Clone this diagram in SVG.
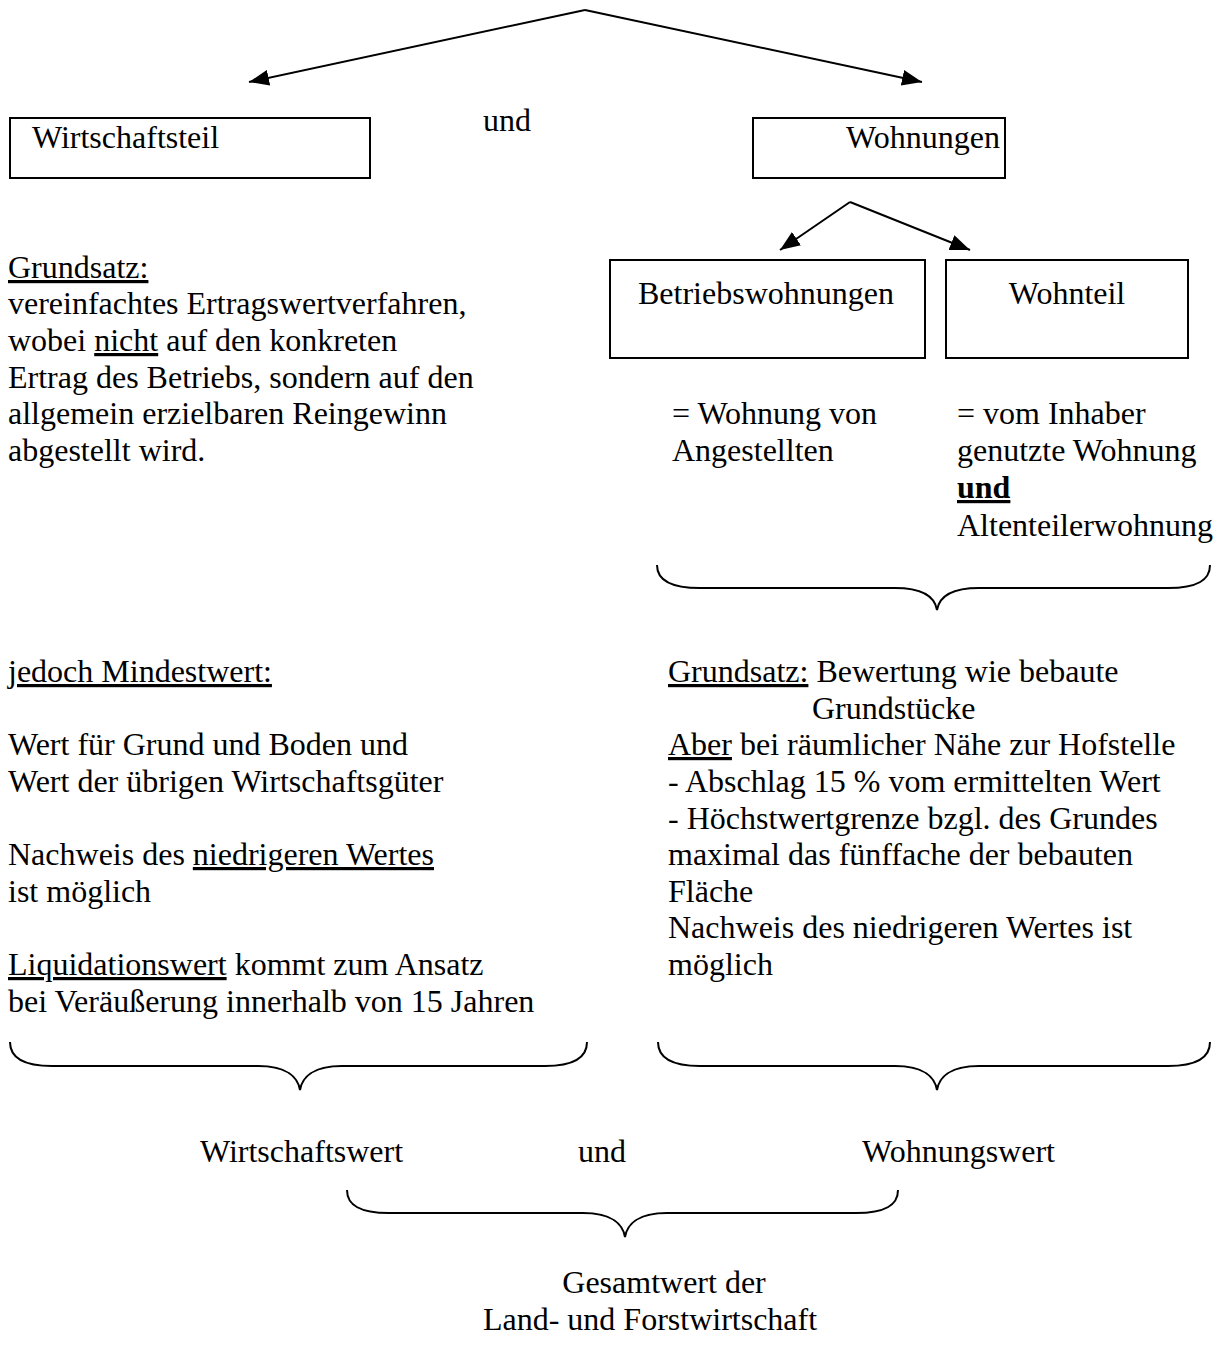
<svg xmlns="http://www.w3.org/2000/svg" width="1220" height="1348" viewBox="0 0 1220 1348" font-family="'Liberation Serif', 'Times New Roman', serif">
<style>
text{font-family:"Liberation Serif","Times New Roman",serif;font-size:32px;fill:#000}
.box{fill:#fff;stroke:#000;stroke-width:2}
.ln{fill:none;stroke:#000;stroke-width:2}
.u{text-decoration:underline}
.b{font-weight:bold;text-decoration:underline}
.m{text-anchor:middle}
</style>
<defs>
<marker id="ah2" viewBox="0 0 20 16" refX="20" refY="8" markerWidth="20" markerHeight="16" markerUnits="userSpaceOnUse" orient="auto">
<path d="M0,0 L20,8 L0,16 z" fill="#000"/>
</marker>
</defs>
<rect width="1220" height="1348" fill="#fff"/>
<g id="connectors">
<line class="ln" x1="585" y1="10" x2="249" y2="82" marker-end="url(#ah2)"/>
<line class="ln" x1="585" y1="10" x2="922" y2="82" marker-end="url(#ah2)"/>
<line class="ln" x1="850" y1="202" x2="780" y2="250" marker-end="url(#ah2)"/>
<line class="ln" x1="850" y1="202" x2="970" y2="250" marker-end="url(#ah2)"/>
<path class="ln" d="M657,565 C657,580 670,588 700,588 L895,588 C925,588 935,598 937,610 C939,598 949,588 979,588 L1168,588 C1198,588 1210,580 1210,565"/>
<path class="ln" d="M10,1042 C10,1057 22,1066 52,1066 L258,1066 C288,1066 298,1078 300,1090 C302,1078 312,1066 342,1066 L545,1066 C575,1066 587,1057 587,1042"/>
<path class="ln" d="M658,1042 C658,1057 670,1066 700,1066 L895,1066 C925,1066 935,1078 937,1090 C939,1078 949,1066 979,1066 L1168,1066 C1198,1066 1210,1057 1210,1042"/>
<path class="ln" d="M347,1190 C347,1205 359,1213 389,1213 L583,1213 C613,1213 623,1225 625,1237 C627,1225 637,1213 667,1213 L856,1213 C886,1213 898,1205 898,1190"/>
</g>
<g id="wirtschaftsteil">
<rect class="box" x="10" y="118" width="360" height="60"/>
<text x="32" y="148">Wirtschaftsteil</text>
</g>
<g id="und-top"><text x="483" y="131">und</text></g>
<g id="wohnungen">
<rect class="box" x="753" y="118" width="252" height="60"/>
<text class="m" x="923" y="148">Wohnungen</text>
</g>
<g id="betriebswohnungen">
<rect class="box" x="610" y="260" width="315" height="98"/>
<text class="m" x="766" y="304">Betriebswohnungen</text>
</g>
<g id="wohnteil">
<rect class="box" x="946" y="260" width="242" height="98"/>
<text class="m" x="1067" y="304">Wohnteil</text>
</g>
<g id="betrieb-desc">
<text x="672" y="424">= Wohnung von</text>
<text x="672" y="461">Angestellten</text>
</g>
<g id="wohnteil-desc">
<text x="957" y="424">= vom Inhaber</text>
<text x="957" y="461">genutzte Wohnung</text>
<text x="957" y="498" class="b">und</text>
<text x="957" y="536">Altenteilerwohnung</text>
</g>
<g id="grundsatz-left">
<text x="8" y="278"><tspan class="u">Grundsatz:</tspan></text>
<text x="8" y="314">vereinfachtes Ertragswertverfahren,</text>
<text x="8" y="351">wobei <tspan class="u">nicht</tspan> auf den konkreten</text>
<text x="8" y="388">Ertrag des Betriebs, sondern auf den</text>
<text x="8" y="424">allgemein erzielbaren Reingewinn</text>
<text x="8" y="461">abgestellt wird.</text>
</g>
<g id="mindestwert">
<text x="8" y="682"><tspan class="u">jedoch Mindestwert:</tspan></text>
<text x="8" y="755">Wert für Grund und Boden und</text>
<text x="8" y="792">Wert der übrigen Wirtschaftsgüter</text>
<text x="8" y="865">Nachweis des <tspan class="u">niedrigeren Wertes</tspan></text>
<text x="8" y="902">ist möglich</text>
<text x="8" y="975"><tspan class="u">Liquidationswert</tspan> kommt zum Ansatz</text>
<text x="8" y="1012">bei Veräußerung innerhalb von 15 Jahren</text>
</g>
<g id="grundsatz-right">
<text x="668" y="682"><tspan class="u">Grundsatz:</tspan> Bewertung wie bebaute</text>
<text x="812" y="719">Grundstücke</text>
<text x="668" y="755"><tspan class="u">Aber</tspan> bei räumlicher Nähe zur Hofstelle</text>
<text x="668" y="792">- Abschlag 15 % vom ermittelten Wert</text>
<text x="668" y="829">- Höchstwertgrenze bzgl. des Grundes</text>
<text x="668" y="865">maximal das fünffache der bebauten</text>
<text x="668" y="902">Fläche</text>
<text x="668" y="938">Nachweis des niedrigeren Wertes ist</text>
<text x="668" y="975">möglich</text>
</g>
<g id="werte">
<text x="200" y="1162">Wirtschaftswert</text>
<text x="578" y="1162">und</text>
<text x="862" y="1162">Wohnungswert</text>
</g>
<g id="gesamtwert">
<text class="m" x="664" y="1293">Gesamtwert der</text>
<text class="m" x="650" y="1330">Land- und Forstwirtschaft</text>
</g>
</svg>
